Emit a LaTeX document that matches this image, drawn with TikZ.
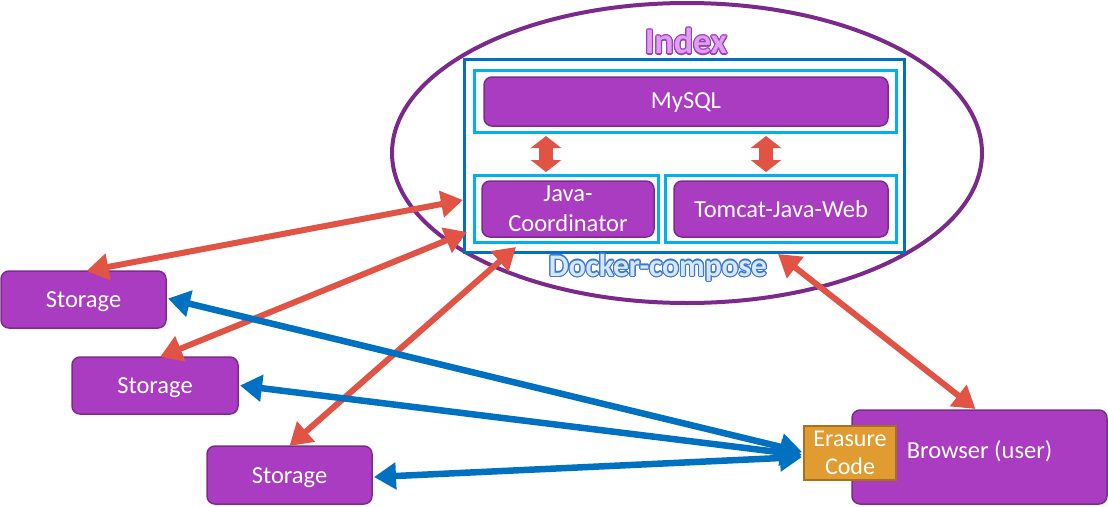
\documentclass[tikz,border=0pt]{standalone}
\usepackage{fontspec}
\setmainfont{Carlito}
\usepackage{contour}
\usetikzlibrary{shapes.geometric,arrows.meta,calc}
\definecolor{boxpurple}{HTML}{A93CC0}
\definecolor{boxedge}{HTML}{7B2C8C}
\definecolor{ellpurple}{HTML}{7B2A8C}
\definecolor{darkblue}{HTML}{0070C0}
\definecolor{lightblue}{HTML}{00B0F0}
\definecolor{arrred}{HTML}{E15445}
\definecolor{ecfill}{HTML}{E09C30}
\definecolor{ecedge}{HTML}{A8701E}
\definecolor{idxin}{HTML}{DDA0EA}
\definecolor{idxout}{HTML}{A33CC2}
\definecolor{dcin}{HTML}{D6E8FA}
\definecolor{dcout}{HTML}{3C78D8}
\newcommand{\lowtext}[2]{\raisebox{-#1pt}[0pt][0pt]{#2}}
\begin{document}
\begin{tikzpicture}[x=1pt,y=-1pt,
  every node/.style={inner sep=0pt,outer sep=0pt},
  pbox/.style={draw=boxedge,fill=boxpurple,line width=1.5pt,rounded corners=8pt,
    text=white,font=\fontsize{24.5}{30}\selectfont,align=center},
  lbbox/.style={draw=lightblue,line width=3pt,fill=white},
  redarr/.style={draw=arrred,line width=6pt,{Triangle[length=22pt,width=26pt]}-{Triangle[length=22pt,width=26pt]}},
  bluearr/.style={draw=darkblue,line width=6.5pt,{Triangle[length=22pt,width=26pt]}-{Triangle[length=22pt,width=26pt]}},
  blockarr/.style={draw=arrred,line width=14pt,{Triangle[length=12pt,width=30pt]}-{Triangle[length=12pt,width=30pt]}}
]
\path[use as bounding box] (0,0) rectangle (1108,506);
% ellipse
\node[ellipse,draw=ellpurple,line width=4pt,minimum width=590pt,minimum height=300pt] (ell) at (687,153) {};
% docker compose
\node[draw=darkblue,line width=3pt,fill=white,minimum width=440pt,minimum height=193pt] (dock) at (684,155.5) {};
\node[lbbox,minimum width=422pt,minimum height=62pt] (mysqlb) at (685,101) {};
\node[pbox,minimum width=404pt,minimum height=49pt] (mysql) at (686,101.5) {\lowtext{7}{MySQL}};
\node[lbbox,minimum width=184pt,minimum height=67pt] (jcb) at (566,208.5) {};
\node[pbox,minimum width=172pt,minimum height=56pt] (jc) at (568,209) {Java-\\Coordinator};
\node[lbbox,minimum width=231pt,minimum height=67pt] (tcb) at (780.5,208.5) {};
\node[pbox,minimum width=214pt,minimum height=56pt] (tc) at (781,209) {\lowtext{8.5}{Tomcat-Java-Web}};
% labels
\node[font=\fontsize{36}{36}\selectfont\bfseries,text=idxin] (idx) at (686,42) {\contourlength{1.1pt}\contour{idxout}{Index}};
\node[font=\fontsize{31.5}{31.5}\selectfont\bfseries,text=dcin] (dc) at (658,268) {\contourlength{1.1pt}\contour{dcout}{Docker-compose}};
% vertical block arrows
\draw[blockarr] ($(mysqlb.south)+(-139,4)$) coordinate (v1a) -- ($(jcb.north)+(-20,-3)$) coordinate (v1b);
\draw[blockarr] ($(mysqlb.south)+(81,4)$) coordinate (v2a) -- ($(tcb.north)+(-14.5,-3)$) coordinate (v2b);
% storages and browser
\node[pbox,minimum width=165pt,minimum height=57pt] (s1) at (83.5,299.5) {\lowtext{8}{Storage}};
\node[pbox,minimum width=166pt,minimum height=57pt] (s2) at (155,385.5) {\lowtext{8}{Storage}};
\node[pbox,minimum width=165pt,minimum height=58pt] (s3) at (289.5,475) {\lowtext{8.5}{Storage}};
\node[pbox,minimum width=255pt,minimum height=94pt] (br) at (979.5,457) {\lowtext{1.5}{Browser (user)}};
\node[draw=ecedge,fill=ecfill,line width=2pt,minimum width=92pt,minimum height=54pt,
  text=white,font=\fontsize{24}{28}\selectfont,align=center] (ec) at (850,453) {Erasure\\Code};
% connector end points
\coordinate (r1b) at (463,200);
\coordinate (r2b) at (467,232);
\coordinate (r3b) at (516,247);
\coordinate (r4a) at (778,254);
% red arrows
\draw[redarr] ($(s1.north)+(3,0)$) -- (r1b);
\draw[redarr] ($(s2.north)+(5,0)$) -- (r2b);
\draw[redarr] (s3.north) -- (r3b);
\draw[redarr] (r4a) -- ($(br.north)+(-4,-1)$);
% blue arrows
\draw[bluearr] ($(s1.east)+(2,-1)$) -- ($(ec.west)+(-2,-1)$);
\draw[bluearr] ($(s2.east)+(2,0)$) -- ($(ec.west)+(-2,2)$);
\draw[bluearr] ($(s3.east)+(2,2)$) -- ($(ec.west)+(-2,4)$);
\end{tikzpicture}
\end{document}
